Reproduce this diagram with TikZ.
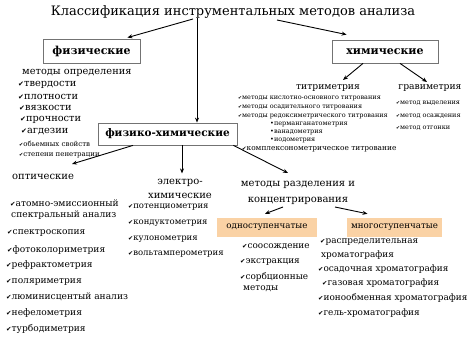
\documentclass[tikz,border=0pt]{standalone}
\usepackage{fontspec}
\setmainfont{DejaVu Serif}
\newfontfamily\dvs{DejaVu Serif}
\newfontfamily\dejavu{DejaVu Sans}
\usepackage{graphicx}
\usetikzlibrary{arrows.meta}
\definecolor{peach}{RGB}{250,210,165}
\newcommand{\ck}{\scalebox{0.72}{\dejavu ✔}}
\newcommand{\fs}[1]{\dvs\fontsize{#1}{#1}\selectfont}
\begin{document}
\begin{tikzpicture}[x=1pt,y=-1pt,
  arr/.style={-{Stealth[length=5pt,width=4pt]}, line width=0.9pt},
  gbox/.style={draw=black!55, line width=0.8pt, inner sep=0, font=\fs{11}\bfseries},
  obox/.style={fill=peach, inner sep=0, font=\fs{8.7}},
  hdr/.style={inner sep=0, font=\fs{10}},
  hdrb/.style={inner sep=0, font=\fs{9.2}},
  lst/.style={anchor=west, inner sep=0, font=\fs{9.1}},
  mid/.style={anchor=west, inner sep=0, font=\fs{9.8}},
  tiny/.style={anchor=west, inner sep=0, font=\fs{7}},
  sml/.style={anchor=west, inner sep=0, font=\fs{6.5}},
]
\useasboundingbox (0,0) rectangle (474,355);

% title
\node[inner sep=0, font=\fs{13}] (title) at (233,12) {Классификация инструментальных методов анализа};

% boxes
\node[gbox, minimum width=97pt, minimum height=24pt] (fiz) at (91.5,51) {физические};
\node[gbox, minimum width=106pt, minimum height=23pt] (khim) at (385,51.5) {химические};
\node[gbox, minimum width=139pt, minimum height=22pt, font=\fs{10.5}\bfseries] (fk) at (167.5,134) {физико-химические};
\node[obox, minimum width=100pt, minimum height=19pt] (one) at (267,227.5) {одноступенчатые};
\node[obox, minimum width=95pt, minimum height=19pt] (many) at (394.5,227.5) {многоступенчатые};

% title arrows
\coordinate (tL) at (193,19);
\coordinate (tR) at (277,20);
\coordinate (tV) at (197,18);
\draw[arr] (tL) -- ([xshift=-13pt,yshift=1pt]fiz.north east);
\draw[arr] (tR) -- ([xshift=15pt,yshift=5pt]khim.north west);
\draw[arr] (tV) -- (tV |- fk.north);

% physical list
\node[mid] (m0) at (22,73) {методы определения};
\node[mid] (m1) at (18,85) {\ck твердости};
\node[mid] (m2) at (18,97) {\ck плотности};
\node[mid] (m3) at (19,108) {\ck вязкости};
\node[mid] (m4) at (20,120) {\ck прочности};
\node[mid] (m5) at (21,132) {\ck агдезии};
\node[tiny] (m6) at (19,144) {\ck обьемных свойств};
\node[tiny] (m7) at (19,155) {\ck степени пенетрации};

% chemical
\node[hdrb] (titr) at (328,88) {титриметрия};
\node[hdrb] (grav) at (430,88) {гравиметрия};
\coordinate (titrTip) at (343,80);
\coordinate (gravTip) at (427,82);
\draw[arr] ([xshift=-22pt]khim.south) -- (titrTip);
\draw[arr] ([xshift=15pt]khim.south) -- (gravTip);
\node[sml] (t1) at (238,98) {\ck методы кислотно-основного титрования};
\node[sml] (t2) at (238,107) {\ck методы осадительного титрования};
\node[sml] (t3) at (238,116) {\ck методы редоксиметрического титрования};
\node[sml] (t4) at (270,124) {•перманганатометрия};
\node[sml] (t5) at (270,132) {•ванадометрия};
\node[sml] (t6) at (270,140) {•иодометрия};
\node[sml, font=\fs{7.4}] (t7) at (242,149) {\ck комплексонометрическое титрование};
\node[sml] (g1) at (396,103) {\ck метод выделения};
\node[sml] (g2) at (396,116) {\ck метод осаждения};
\node[sml] (g3) at (396,128) {\ck метод отгонки};

% physico-chemical branches
\node[hdr, anchor=west] (opt) at (12,177) {оптические};
\node[hdr, align=center, font=\dvs\fontsize{10}{14}\selectfont] (el) at (180,189) {электро-\\химические};
\node[hdr, align=center, font=\dvs\fontsize{10}{16}\selectfont] (sep) at (298,193) {методы разделения и\\концентрирования};
\coordinate (optTip) at (72,164);
\coordinate (sepTip) at (288,173);
\draw[arr] ([xshift=-34.5pt]fk.south) -- (optTip);
\draw[arr] ([xshift=14.5pt]fk.south) -- ([xshift=14.5pt,yshift=-28pt]fk.south);
\draw[arr] ([xshift=-4pt]fk.south east) -- (sepTip);

% optical list
\node[lst] (o1) at (10,203) {\ck атомно-эмиссионный};
\node[lst] (o2) at (11,215) {спектральный анализ};
\node[lst] (o3) at (7,233) {\ck спектроскопия};
\node[lst] (o4) at (7,250) {\ck фотоколориметрия};
\node[lst] (o5) at (6,265) {\ck рефрактометрия};
\node[lst] (o6) at (6,282) {\ck поляриметрия};
\node[lst] (o7) at (6,297) {\ck люминисцентый анализ};
\node[lst] (o8) at (6,313) {\ck нефелометрия};
\node[lst] (o9) at (6,329) {\ck турбодиметрия};

% electrochemical list
\node[lst, font=\fs{8.5}] (e1) at (128,207) {\ck потенциометрия};
\node[lst, font=\fs{8.5}] (e2) at (128,223) {\ck кондуктометрия};
\node[lst, font=\fs{8.5}] (e3) at (128,239) {\ck кулонометрия};
\node[lst, font=\fs{8.5}] (e4) at (128,254) {\ck вольтамперометрия};

% separation
\coordinate (sL) at (283,207);
\coordinate (sR) at (335,207);
\draw[arr] (sL) -- ([xshift=-2pt,yshift=4pt]one.north);
\draw[arr] (sR) -- ([xshift=-27pt,yshift=4pt]many.north);

\node[lst, font=\fs{8.9}] (s1) at (242,247) {\ck соосождение};
\node[lst, font=\fs{8.9}] (s2) at (240,262) {\ck экстракция};
\node[lst, font=\fs{8.9}] (s3) at (240,277) {\ck сорбционные};
\node[lst, font=\fs{8.9}] (s4) at (243,289) {методы};

\node[lst, font=\fs{8.9}] (r1) at (320,242) {\ck распределительная};
\node[lst, font=\fs{8.9}] (r2) at (321,255) {хроматография};
\node[lst, font=\fs{8.9}] (r3) at (318,269) {\ck осадочная хроматография};
\node[lst, font=\fs{8.9}] (r4) at (322,283) {\ck газовая хроматография};
\node[lst, font=\fs{8.9}] (r5) at (318,298) {\ck ионообменная хроматография};
\node[lst, font=\fs{8.9}] (r6) at (318,313) {\ck гель-хроматография};
\end{tikzpicture}
\end{document}
